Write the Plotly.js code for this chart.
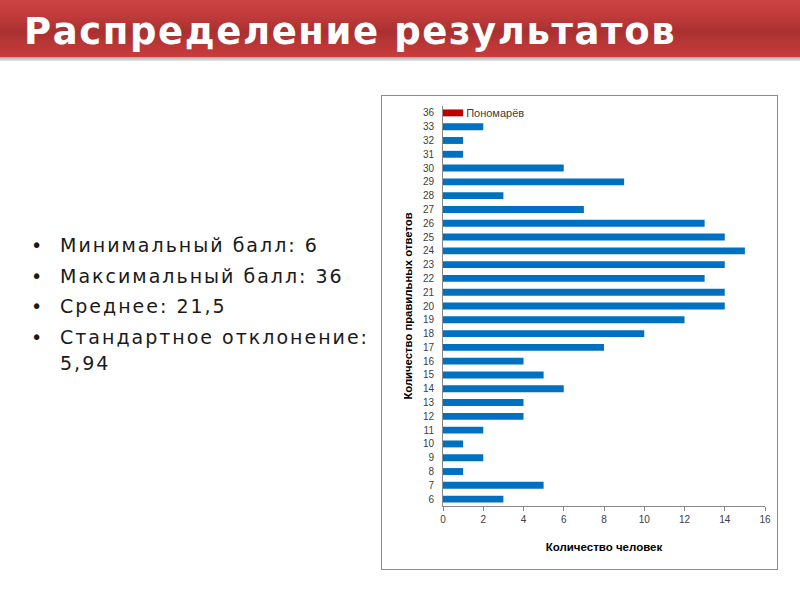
<!DOCTYPE html>
<html>
<head>
<meta charset="utf-8">
<script src="https://cdn.plot.ly/plotly-3.0.1.min.js"></script>
<style>
  html, body { margin:0; padding:0; width:800px; height:600px; background:#fff; overflow:hidden; font-family:"DejaVu Sans", sans-serif; }
  #banner { position:absolute; left:0; top:0; width:800px; height:57px;
    background:linear-gradient(to bottom, #cd4444 0%, #bf3a3a 30%, #a93030 55%, #c03838 85%, #c83c3c 100%); }
  #shadow { position:absolute; left:0; top:57px; width:800px; height:4px; background:linear-gradient(to bottom,#a8a8a8,#e6e6e6); }
  #title { position:absolute; left:24px; top:11px; color:#fff; font-weight:bold; font-size:37px; font-family:"DejaVu Sans", sans-serif; letter-spacing:1.6px; line-height:42px; }
  ul { position:absolute; left:31px; top:232px; margin:0; padding:0; list-style:none; width:345px; }
  li { position:relative; padding-left:29px; font-size:19px; letter-spacing:2px; color:#1a1a1a; line-height:26px; margin-bottom:4.7px; }
  li:before { content:"•"; position:absolute; left:0; top:0; }
  #chartbox { position:absolute; left:381px; top:95px; width:395px; height:473px; border:1px solid #8c8c8c; }
  #chart { width:395px; height:473px; }
</style>
</head>
<body>
<div id="banner"></div>
<div id="shadow"></div>
<div id="title">Распределение результатов</div>
<ul>
  <li>Минимальный балл: 6</li>
  <li>Максимальный балл: 36</li>
  <li>Среднее: 21,5</li>
  <li>Стандартное отклонение: 5,94</li>
</ul>
<div id="chartbox"><div id="chart"></div></div>
<script>
const scores = ['36','33','32','31','30','29','28','27','26','25','24','23','22','21','20','19','18','17','16','15','14','13','12','11','10','9','8','7','6'];
const counts = [1,2,1,1,6,9,3,7,13,14,15,14,13,14,14,12,10,8,4,5,6,4,4,2,1,2,1,5,3];
const highlightScore = '36';
const highlightName = 'Пономарёв';
const xTicks = [0,2,4,6,8,10,12,14,16];
const gridTicks = [2,8,14,16];

const colors = scores.map(s => s === highlightScore ? '#c00000' : '#0070c0');
const labels = scores.map(s => s === highlightScore ? highlightName : '');

const trace = {
  type:'bar', orientation:'h',
  x: counts, y: scores,
  marker:{color:colors},
  width:0.5,
  text: labels, textposition:'outside', cliponaxis:false, constraintext:'none',
  textfont:{family:'Liberation Sans, sans-serif', size:11, color:'#404040'},
  outsidetextfont:{family:'Liberation Sans, sans-serif', size:11, color:'#404040'},
  hoverinfo:'none'
};

const layout = {
  width:395, height:473,
  margin:{l:61, r:12, t:10, b:63},
  paper_bgcolor:'#fff', plot_bgcolor:'rgba(0,0,0,0)',
  showlegend:false,
  bargap:0.5,
  xaxis:{
    range:[0,16], tickvals:xTicks, ticktext:xTicks.map(String),
    showgrid:false, zeroline:false,
    showline:true, linecolor:'#888', linewidth:1,
    ticks:'outside', ticklen:4, tickcolor:'#888',
    tickfont:{family:'Liberation Sans, sans-serif', size:10, color:'#404040'},
    title:{text:'Количество человек', font:{family:'Liberation Sans, sans-serif', size:11.5, color:'#000', weight:'bold'}, standoff:18}
  },
  xaxis2:{
    overlaying:'x', matches:'x', range:[0,16], tickvals:gridTicks,
    showgrid:true, gridcolor:'#b0b0b0', griddash:'dash', gridwidth:1,
    showticklabels:false, ticks:'', zeroline:false, showline:false
  },
  yaxis:{
    type:'category', categoryorder:'array', categoryarray:scores,
    autorange:'reversed',
    showline:true, linecolor:'#888', linewidth:1,
    ticks:'outside', ticklen:6, tickcolor:'rgba(0,0,0,0)',
    showgrid:false,
    tickfont:{family:'Liberation Sans, sans-serif', size:10, color:'#404040'},
    title:{text:'Количество правильных ответов', font:{family:'Liberation Sans, sans-serif', size:11.3, color:'#000', weight:'bold'}, standoff:7}
  }
};

Plotly.newPlot('chart', [trace], layout, {staticPlot:true, displayModeBar:false});
</script>
</body>
</html>
